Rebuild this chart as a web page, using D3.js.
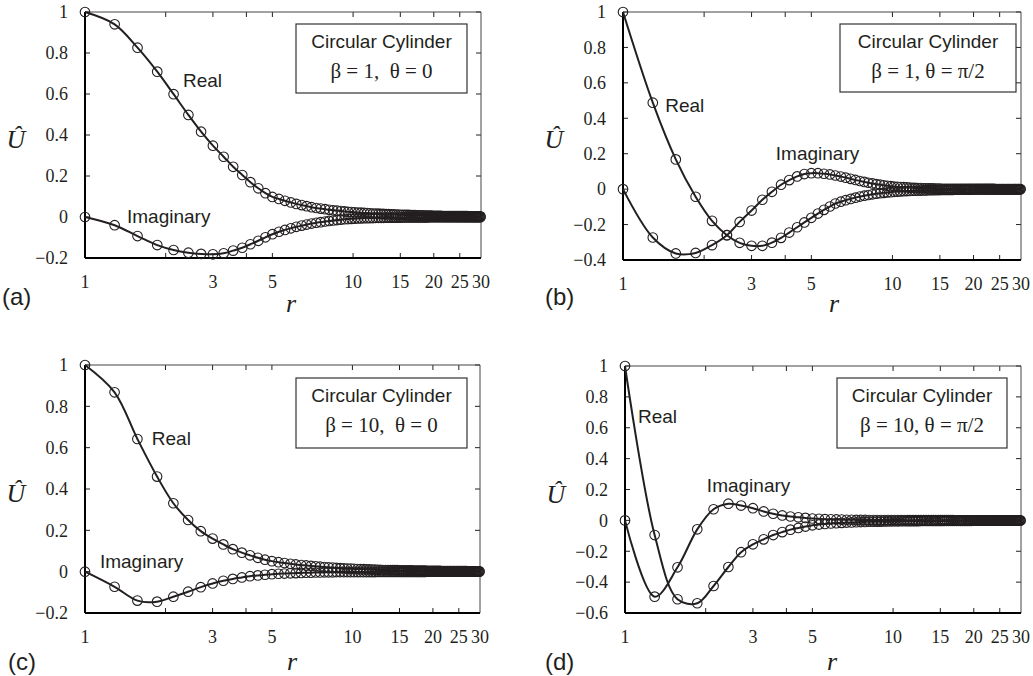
<!DOCTYPE html>
<html><head><meta charset="utf-8">
<script src="https://cdn.jsdelivr.net/npm/d3@7"></script>
<style>body{margin:0;background:#fff}svg{display:block}</style>
</head><body>
<svg id="chart" width="1033" height="676"></svg>
<script>
// ---------- data ----------
const rValues = [
 1.00,1.29,1.57,1.86,2.14,2.43,2.71,
 3.00,3.29,3.57,3.86,4.14,4.43,4.71,
 5.00,5.29,5.57,5.86,6.14,6.43,6.71,
 7.00,7.29,7.57,7.86,8.14,8.43,8.71,
 9.00,9.29,9.57,9.86,10.14,10.43,10.71,
 11.00,11.29,11.57,11.86,12.14,12.43,12.71,
 13.00,13.29,13.57,13.86,14.14,14.43,14.71,
 15.00,15.29,15.57,15.86,16.14,16.43,16.71,
 17.00,17.29,17.57,17.86,18.14,18.43,18.71,
 19.00,19.29,19.57,19.86,20.14,20.43,20.71,
 21.00,21.29,21.57,21.86,22.14,22.43,22.71,
 23.00,23.29,23.57,23.86,24.14,24.43,24.71,
 25.00,25.29,25.57,25.86,26.14,26.43,26.71,
 27.00,27.29,27.57,27.86,28.14,28.43,28.71,
 29.00,29.29,29.57,29.86];

// (a) beta = 1, theta = 0
const realA = [
 1.000,0.940,0.826,0.709,0.599,0.498,0.416,
 0.348,0.294,0.245,0.205,0.170,0.140,0.116,
 0.098,0.088,0.079,0.071,0.064,0.058,0.053,
 0.048,0.044,0.041,0.038,0.035,0.033,0.031,
 0.029,0.027,0.025,0.024,0.023,0.022,0.021,
 0.020,0.019,0.018,0.017,0.017,0.016,0.015,
 0.015,0.014,0.014,0.013,0.013,0.012,0.012,
 0.011,0.011,0.010,0.010,0.010,0.009,0.009,
 0.009,0.008,0.008,0.008,0.008,0.007,0.007,
 0.007,0.007,0.007,0.006,0.006,0.006,0.006,
 0.006,0.006,0.005,0.005,0.005,0.005,0.005,
 0.005,0.005,0.005,0.005,0.004,0.004,0.004,
 0.004,0.004,0.004,0.004,0.004,0.004,0.004,
 0.003,0.003,0.003,0.003,0.003,0.003,0.003,
 0.003,0.003,0.003,0.003];
const imagA = [
 0.000,-0.040,-0.093,-0.137,-0.161,-0.174,-0.180,
 -0.182,-0.177,-0.164,-0.150,-0.133,-0.116,-0.099,
 -0.084,-0.072,-0.063,-0.055,-0.048,-0.042,-0.037,
 -0.032,-0.028,-0.025,-0.022,-0.019,-0.017,-0.015,
 -0.013,-0.011,-0.010,-0.009,-0.008,-0.007,-0.007,
 -0.006,-0.006,-0.005,-0.005,-0.004,-0.004,-0.004,
 -0.004,-0.003,-0.003,-0.003,-0.003,-0.003,-0.003,
 -0.003,-0.002,-0.002,-0.002,-0.002,-0.002,-0.002,
 -0.002,-0.002,-0.002,-0.002,-0.002,-0.002,-0.002,
 -0.002,-0.001,-0.001,-0.001,-0.001,-0.001,-0.001,
 -0.001,-0.001,-0.001,-0.001,-0.001,-0.001,-0.001,
 -0.001,-0.001,-0.001,-0.001,-0.001,-0.001,-0.001,
 -0.001,-0.001,-0.001,-0.001,-0.001,-0.001,-0.001,
 -0.001,-0.001,-0.001,-0.001,-0.001,-0.001,-0.001,
 -0.001,-0.001,-0.001,-0.001];

// (b) beta = 1, theta = pi/2
const realB = [
 1.000,0.488,0.168,-0.043,-0.179,-0.260,-0.303,
 -0.320,-0.320,-0.302,-0.275,-0.245,-0.215,-0.188,
 -0.162,-0.138,-0.117,-0.098,-0.081,-0.071,-0.062,
 -0.055,-0.048,-0.042,-0.037,-0.033,-0.029,-0.026,
 -0.023,-0.021,-0.019,-0.017,-0.015,-0.014,-0.013,
 -0.012,-0.011,-0.010,-0.009,-0.009,-0.008,-0.008,
 -0.007,-0.007,-0.006,-0.006,-0.006,-0.005,-0.005,
 -0.005,-0.004,-0.004,-0.004,-0.004,-0.004,-0.004,
 -0.003,-0.003,-0.003,-0.003,-0.003,-0.003,-0.003,
 -0.003,-0.003,-0.003,-0.002,-0.002,-0.002,-0.002,
 -0.002,-0.002,-0.002,-0.002,-0.002,-0.002,-0.002,
 -0.002,-0.002,-0.002,-0.002,-0.001,-0.001,-0.001,
 -0.001,-0.001,-0.001,-0.001,-0.001,-0.001,-0.001,
 -0.001,-0.001,-0.001,-0.001,-0.001,-0.001,-0.001,
 -0.001,-0.001,-0.001,-0.001];
const imagB = [
 0.000,-0.273,-0.363,-0.360,-0.316,-0.260,-0.185,
 -0.121,-0.060,-0.015,0.025,0.051,0.072,0.085,
 0.090,0.090,0.087,0.083,0.077,0.071,0.065,
 0.058,0.052,0.046,0.041,0.036,0.032,0.028,
 0.025,0.022,0.019,0.017,0.015,0.013,0.012,
 0.011,0.010,0.009,0.008,0.007,0.006,0.006,
 0.005,0.005,0.004,0.004,0.004,0.003,0.003,
 0.003,0.002,0.002,0.002,0.002,0.002,0.002,
 0.002,0.002,0.002,0.002,0.002,0.001,0.001,
 0.001,0.001,0.001,0.001,0.001,0.001,0.001,
 0.001,0.001,0.001,0.001,0.001,0.001,0.001,
 0.001,0.001,0.001,0.001,0.000,0.000,0.000,
 0.000,0.000,0.000,0.000,0.000,0.000,0.000,
 0.000,0.000,0.000,0.000,0.000,0.000,0.000,
 0.000,0.000,0.000,0.000];

// (c) beta = 10, theta = 0
const realC = [
 1.000,0.868,0.642,0.460,0.331,0.250,0.196,
 0.160,0.132,0.109,0.092,0.079,0.067,0.058,
 0.051,0.046,0.042,0.038,0.035,0.032,0.030,
 0.028,0.026,0.024,0.022,0.021,0.020,0.018,
 0.017,0.016,0.015,0.015,0.014,0.013,0.012,
 0.012,0.011,0.011,0.010,0.010,0.009,0.009,
 0.008,0.008,0.008,0.007,0.007,0.007,0.007,
 0.006,0.006,0.006,0.006,0.006,0.006,0.006,
 0.005,0.005,0.005,0.005,0.005,0.005,0.005,
 0.004,0.004,0.004,0.004,0.004,0.004,0.004,
 0.004,0.004,0.003,0.003,0.003,0.003,0.003,
 0.003,0.003,0.003,0.003,0.003,0.003,0.003,
 0.003,0.003,0.003,0.003,0.003,0.003,0.003,
 0.002,0.002,0.002,0.002,0.002,0.002,0.002,
 0.002,0.002,0.002,0.002];
const imagC = [
 0.000,-0.073,-0.140,-0.145,-0.121,-0.097,-0.075,
 -0.057,-0.044,-0.035,-0.028,-0.022,-0.018,-0.015,
 -0.012,-0.010,-0.009,-0.008,-0.007,-0.006,-0.005,
 -0.005,-0.004,-0.004,-0.003,-0.003,-0.003,-0.002,
 -0.002,-0.002,-0.002,-0.002,-0.002,-0.002,-0.002,
 -0.002,-0.002,-0.002,-0.002,-0.002,-0.001,-0.001,
 -0.001,-0.001,-0.001,-0.001,-0.001,-0.001,-0.001,
 -0.001,-0.001,-0.001,-0.001,-0.001,-0.001,-0.001,
 -0.001,-0.001,-0.001,-0.001,-0.001,-0.001,-0.001,
 0.000,0.000,0.000,0.000,0.000,0.000,0.000,
 0.000,0.000,0.000,0.000,0.000,0.000,0.000,
 0.000,0.000,0.000,0.000,0.000,0.000,0.000,
 0.000,0.000,0.000,0.000,0.000,0.000,0.000,
 0.000,0.000,0.000,0.000,0.000,0.000,0.000,
 0.000,0.000,0.000,0.000];

// (d) beta = 10, theta = pi/2
const realD = [
 1.000,-0.095,-0.511,-0.537,-0.425,-0.302,-0.206,
 -0.155,-0.123,-0.095,-0.076,-0.060,-0.049,-0.040,
 -0.032,-0.027,-0.023,-0.020,-0.018,-0.016,-0.014,
 -0.013,-0.012,-0.011,-0.010,-0.009,-0.009,-0.008,
 -0.008,-0.007,-0.007,-0.006,-0.006,-0.006,-0.005,
 -0.005,-0.005,-0.005,-0.005,-0.005,-0.005,-0.004,
 -0.004,-0.004,-0.004,-0.004,-0.004,-0.004,-0.004,
 -0.004,-0.004,-0.003,-0.003,-0.003,-0.003,-0.003,
 -0.003,-0.003,-0.003,-0.003,-0.003,-0.003,-0.003,
 -0.003,-0.003,-0.003,-0.002,-0.002,-0.002,-0.002,
 -0.002,-0.002,-0.002,-0.002,-0.002,-0.002,-0.002,
 -0.002,-0.002,-0.002,-0.002,-0.002,-0.002,-0.002,
 -0.002,-0.002,-0.001,-0.001,-0.001,-0.001,-0.001,
 -0.001,-0.001,-0.001,-0.001,-0.001,-0.001,-0.001,
 -0.001,-0.001,-0.001,-0.001];
const imagD = [
 0.000,-0.494,-0.304,-0.058,0.072,0.108,0.096,
 0.079,0.058,0.043,0.032,0.025,0.020,0.016,
 0.012,0.010,0.008,0.007,0.006,0.005,0.004,
 0.004,0.003,0.003,0.003,0.002,0.002,0.002,
 0.002,0.002,0.002,0.002,0.002,0.002,0.002,
 0.002,0.001,0.001,0.001,0.001,0.001,0.001,
 0.001,0.001,0.001,0.001,0.001,0.001,0.001,
 0.001,0.001,0.001,0.001,0.001,0.001,0.001,
 0.000,0.000,0.000,0.000,0.000,0.000,0.000,
 0.000,0.000,0.000,0.000,0.000,0.000,0.000,
 0.000,0.000,0.000,0.000,0.000,0.000,0.000,
 0.000,0.000,0.000,0.000,0.000,0.000,0.000,
 0.000,0.000,0.000,0.000,0.000,0.000,0.000,
 0.000,0.000,0.000,0.000,0.000,0.000,0.000,
 0.000,0.000,0.000,0.000];

const xTickMarks = [2, 3, 4, 5, 10, 15, 20, 25];
const xTickLabels = [1, 3, 5, 10, 15, 20, 25, 30];
const yTicksA = [-0.2, 0, 0.2, 0.4, 0.6, 0.8, 1];
const yTicksB = [-0.4, -0.2, 0, 0.2, 0.4, 0.6, 0.8, 1];
const yTicksC = [-0.2, 0, 0.2, 0.4, 0.6, 0.8, 1];
const yTicksD = [-0.6, -0.4, -0.2, 0, 0.2, 0.4, 0.6, 0.8, 1];
const legendTitle = "Circular Cylinder";
const legendParams = ["\u03B2 = 1,  \u03B8 = 0", "\u03B2 = 1, \u03B8 = \u03C0/2", "\u03B2 = 10,  \u03B8 = 0", "\u03B2 = 10, \u03B8 = \u03C0/2"];
const panelTags = ["(a)", "(b)", "(c)", "(d)"];
const seriesNames = ["Real", "Imaginary"];
const yTitle = "\u00DB";
const xTitle = "r";

// ---------- layout ----------
const panels = [
 {tag:panelTags[0], real:realA, imag:imagA, yTicks:yTicksA, L:85,  R:481,  T:12,  B:258,
  box:{x:296,y:24,w:171,h:69}, legend:legendParams[0], realLab:[2.32,0.634], imagLab:[1.434,-0.029],
  tagPos:[2,305], rPos:[291,312], uPos:[16,148]},
 {tag:panelTags[1], real:realB, imag:imagB, yTicks:yTicksB, L:623, R:1021, T:12,  B:260,
  box:{x:840,y:24,w:176,h:68}, legend:legendParams[1], realLab:[1.434,0.435], imagLab:[3.69,0.164],
  tagPos:[545,305], rPos:[834,312], uPos:[554,148]},
 {tag:panelTags[2], real:realC, imag:imagC, yTicks:yTicksC, L:85,  R:480,  T:365, B:613,
  box:{x:296,y:378,w:171,h:70}, legend:legendParams[2], realLab:[1.778,0.613], imagLab:[1.137,0.018],
  tagPos:[8,670], rPos:[292,670], uPos:[16,502]},
 {tag:panelTags[3], real:realD, imag:imagD, yTicks:yTicksD, L:625, R:1021, T:366, B:613,
  box:{x:837,y:378,w:170,h:70}, legend:legendParams[3], realLab:[1.118,0.631], imagLab:[2.02,0.184],
  tagPos:[545,670], rPos:[832,670], uPos:[556,503]}
];

const INK = "#231f20";
const SERIF = "'Liberation Serif','Times New Roman',serif";
const SANS = "'Liberation Sans',Arial,sans-serif";
const svg = d3.select("#chart");

const fmtY = d => (d < 0 ? "\u2212" : "") + String(+Math.abs(d).toFixed(1));

panels.forEach(p => {
  const x = d3.scaleLog().domain([1, 30]).range([p.L, p.R]);
  const yDom = d3.extent(p.yTicks);
  const y = d3.scaleLinear().domain(yDom).range([p.B, p.T]);
  const g = svg.append("g");

  // ticks (inward)
  const tk = g.append("g").attr("stroke", INK).attr("stroke-width", 1);
  xTickMarks.forEach(v => {
    tk.append("line").attr("x1", x(v)).attr("x2", x(v)).attr("y1", p.B).attr("y2", p.B - 5);
    tk.append("line").attr("x1", x(v)).attr("x2", x(v)).attr("y1", p.T).attr("y2", p.T + 5);
  });
  p.yTicks.forEach(v => {
    tk.append("line").attr("x1", p.L).attr("x2", p.L + 5).attr("y1", y(v)).attr("y2", y(v));
    tk.append("line").attr("x1", p.R).attr("x2", p.R - 5).attr("y1", y(v)).attr("y2", y(v));
  });

  // frame
  g.append("line").attr("x1", p.L).attr("x2", p.R).attr("y1", p.T).attr("y2", p.T).attr("stroke", "#444").attr("stroke-width", 1);
  g.append("line").attr("x1", p.R).attr("x2", p.R).attr("y1", p.T).attr("y2", p.B).attr("stroke", "#444").attr("stroke-width", 1);
  g.append("line").attr("x1", p.L).attr("x2", p.R).attr("y1", p.B).attr("y2", p.B).attr("stroke", "#000").attr("stroke-width", 2);
  g.append("line").attr("x1", p.L).attr("x2", p.L).attr("y1", p.T).attr("y2", p.B).attr("stroke", "#000").attr("stroke-width", 2);

  // tick labels
  g.append("g").selectAll("text").data(xTickLabels).join("text")
    .attr("x", d => x(d)).attr("y", p.B + 30).attr("text-anchor", "middle")
    .attr("font-family", SERIF).attr("font-size", 18).attr("fill", INK).text(d => d);
  g.append("g").selectAll("text").data(p.yTicks).join("text")
    .attr("x", p.L - 17).attr("y", d => y(d)).attr("dy", "0.35em").attr("text-anchor", "end")
    .attr("font-family", SERIF).attr("font-size", 18).attr("fill", INK).text(fmtY);

  // series
  const line = d3.line().x((d, i) => x(rValues[i])).y(d => y(d)).curve(d3.curveCatmullRom.alpha(0.5));
  [p.real, p.imag].forEach(series => {
    g.append("g").selectAll("circle").data(series).join("circle")
      .attr("cx", (d, i) => x(rValues[i])).attr("cy", d => y(d)).attr("r", 4.8)
      .attr("fill", "none").attr("stroke", INK).attr("stroke-width", 1.1);
    g.append("path").datum(series).attr("d", line).attr("fill", "none")
      .attr("stroke", INK).attr("stroke-width", 2);
  });

  // series labels
  g.append("text").attr("x", x(p.realLab[0])).attr("y", y(p.realLab[1]))
    .attr("font-family", SANS).attr("font-size", 19).attr("fill", INK).text(seriesNames[0]);
  g.append("text").attr("x", x(p.imagLab[0])).attr("y", y(p.imagLab[1]))
    .attr("font-family", SANS).attr("font-size", 19).attr("fill", INK).text(seriesNames[1]);

  // legend box
  g.append("rect").attr("x", p.box.x).attr("y", p.box.y).attr("width", p.box.w).attr("height", p.box.h)
    .attr("fill", "#fff").attr("stroke", "#333").attr("stroke-width", 1.2);
  g.append("text").attr("x", p.box.x + p.box.w / 2).attr("y", p.box.y + 23.5).attr("text-anchor", "middle")
    .attr("font-family", SANS).attr("font-size", 19).attr("fill", INK).text(legendTitle);
  g.append("text").attr("x", p.box.x + p.box.w / 2).attr("y", p.box.y + 53.5).attr("text-anchor", "middle")
    .attr("font-family", SERIF).attr("font-size", 21).attr("fill", INK)
    .style("white-space", "pre").text(p.legend);

  // axis titles and panel tag
  g.append("text").attr("x", p.rPos[0]).attr("y", p.rPos[1]).attr("text-anchor", "middle")
    .attr("font-family", SERIF).attr("font-style", "italic").attr("font-size", 26).attr("fill", INK).text(xTitle);
  g.append("text").attr("x", p.uPos[0]).attr("y", p.uPos[1]).attr("text-anchor", "middle")
    .attr("font-family", SERIF).attr("font-style", "italic").attr("font-size", 26).attr("fill", INK).text(yTitle);
  g.append("text").attr("x", p.tagPos[0]).attr("y", p.tagPos[1])
    .attr("font-family", SANS).attr("font-size", 24).attr("fill", INK).text(p.tag);
});
</script>
</body></html>
